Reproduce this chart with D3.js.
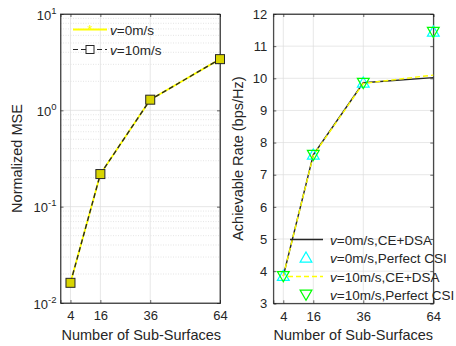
<!DOCTYPE html>
<html>
<head>
<meta charset="utf-8">
<script src="https://cdn.jsdelivr.net/npm/d3@7"></script>
<style>
  body { margin: 0; background: #fff; }
  svg text { font-family: "Liberation Sans", Arial, sans-serif; fill: #262626; }
</style>
</head>
<body>
<div id="chart"></div>
<script>
// data
let subSurfaces = [4, 16, 36, 64]
let xTicks = [4, 16, 36, 64]

let mseV0 = [0.0162, 0.218, 1.29, 3.4]
let mseV10 = [0.0162, 0.218, 1.29, 3.4]

let rateV0Ce = [3.85, 7.62, 9.86, 10.02]
let rateV0Perfect = [3.85, 7.62, 9.86, 11.45]
let rateV10Ce = [3.85, 7.6, 9.84, 10.1]
let rateV10Perfect = [3.85, 7.62, 9.86, 11.45]

let rateTicks = [3, 4, 5, 6, 7, 8, 9, 10, 11, 12]
let mseTicks = [-2, -1, 0, 1]

let width = 456
let height = 346

let svg = d3
  .select('#chart')
  .append('svg')
  .attr('width', width)
  .attr('height', height)

let axisColor = '#262626'
let gridColor = '#dcdcdc'
let tickFont = 13
let labelFont = 14.5
let legendFont = 13.5

// ---------- left panel: MSE ----------
let left = { x0: 60.5, x1: 220, y0: 14, y1: 303 }

let xLeft = d3.scaleLinear().domain([0, 64]).range([left.x0, left.x1])
let yLeft = d3.scaleLog().domain([0.01, 10]).range([left.y1, left.y0])

let gl = svg.append('g')

// minor grid on log axis
let minors = []
for (let e = -2; e < 1; e++) {
  for (let k = 2; k < 10; k++) minors.push(k * Math.pow(10, e))
}
gl.selectAll('.minor')
  .data(minors)
  .enter()
  .append('line')
  .attr('x1', left.x0)
  .attr('x2', left.x1)
  .attr('y1', d => yLeft(d))
  .attr('y2', d => yLeft(d))
  .attr('stroke', '#d4d4d4')
  .attr('stroke-width', 0.6)
  .attr('stroke-dasharray', '1,1.5')

gl.selectAll('.ygrid')
  .data(mseTicks)
  .enter()
  .append('line')
  .attr('x1', left.x0)
  .attr('x2', left.x1)
  .attr('y1', d => yLeft(Math.pow(10, d)))
  .attr('y2', d => yLeft(Math.pow(10, d)))
  .attr('stroke', gridColor)
  .attr('stroke-width', 0.7)

gl.selectAll('.xgrid')
  .data(xTicks)
  .enter()
  .append('line')
  .attr('x1', d => xLeft(d))
  .attr('x2', d => xLeft(d))
  .attr('y1', left.y0)
  .attr('y2', left.y1)
  .attr('stroke', gridColor)
  .attr('stroke-width', 0.7)

// axes
gl.append('g')
  .attr('transform', `translate(0, ${left.y1})`)
  .call(d3.axisBottom(xLeft).tickValues(xTicks).tickSize(-3).tickPadding(8))
gl.append('g')
  .attr('transform', `translate(0, ${left.y0})`)
  .call(d3.axisTop(xLeft).tickValues(xTicks).tickSize(-3).tickFormat(''))

let yAxisLeft = gl
  .append('g')
  .attr('transform', `translate(${left.x0}, 0)`)
  .call(
    d3.axisLeft(yLeft)
      .tickValues(mseTicks.map(d => Math.pow(10, d)))
      .tickSize(-3)
      .tickFormat('')
  )
yAxisLeft
  .selectAll('.tick')
  .append('text')
  .attr('class', 'logtick')
  .attr('x', -4)
  .attr('y', 5)
  .attr('text-anchor', 'end')
  .each(function(d) {
    let t = d3.select(this)
    t.append('tspan').attr('font-size', tickFont).text('10')
    t.append('tspan')
      .attr('dy', -6)
      .attr('font-size', 9.5)
      .text(Math.round(Math.log10(d)))
  })

gl.append('g')
  .attr('transform', `translate(${left.x1}, 0)`)
  .call(
    d3.axisRight(yLeft)
      .tickValues(mseTicks.map(d => Math.pow(10, d)))
      .tickSize(-3)
      .tickFormat('')
  )

gl.append('rect')
  .attr('x', left.x0)
  .attr('y', left.y0)
  .attr('width', left.x1 - left.x0)
  .attr('height', left.y1 - left.y0)
  .attr('fill', 'none')
  .attr('stroke', axisColor)
  .attr('stroke-width', 0.7)

let lineLeft0 = d3.line().x((d, i) => xLeft(subSurfaces[i])).y(d => yLeft(d))

gl.append('path')
  .datum(mseV0)
  .attr('d', lineLeft0)
  .attr('fill', 'none')
  .attr('stroke', '#ffff00')
  .attr('stroke-width', 1.8)

gl.append('path')
  .datum(mseV10)
  .attr('d', lineLeft0)
  .attr('fill', 'none')
  .attr('stroke', '#262626')
  .attr('stroke-width', 1.4)
  .attr('stroke-dasharray', '5,3')

gl.selectAll('.sq')
  .data(mseV10)
  .enter()
  .append('rect')
  .attr('x', (d, i) => xLeft(subSurfaces[i]) - 4.5)
  .attr('y', d => yLeft(d) - 4.5)
  .attr('width', 9)
  .attr('height', 9)
  .attr('fill', '#d8d400')
  .attr('stroke', '#262626')
  .attr('stroke-width', 1)

// left legend
let legL = gl.append('g')
legL.append('line')
  .attr('x1', 73).attr('x2', 107).attr('y1', 29.5).attr('y2', 29.5)
  .attr('stroke', '#ffff00').attr('stroke-width', 1.8)
legL.append('text')
  .attr('x', 90).attr('y', 34).attr('text-anchor', 'middle')
  .attr('font-size', 13).style('fill', '#ffff00').text('*')
legL.append('line')
  .attr('x1', 73).attr('x2', 107).attr('y1', 49.5).attr('y2', 49.5)
  .attr('stroke', '#262626').attr('stroke-width', 1.2)
  .attr('stroke-dasharray', '5,3')
legL.append('rect')
  .attr('x', 86).attr('y', 45.5).attr('width', 8).attr('height', 8)
  .attr('fill', '#fff').attr('stroke', '#262626').attr('stroke-width', 1)

let legLabelsL = ['=0m/s', '=10m/s']
legLabelsL.forEach((s, i) => {
  let t = legL.append('text')
    .attr('x', 110).attr('y', 34.5 + i * 20).attr('font-size', legendFont)
  t.append('tspan').attr('font-style', 'italic').text('v')
  t.append('tspan').text(s)
})

gl.append('text')
  .attr('transform', `translate(22, ${(left.y0 + left.y1) / 2}) rotate(-90)`)
  .attr('text-anchor', 'middle')
  .attr('font-size', labelFont)
  .text('Normalized MSE')

gl.append('text')
  .attr('x', (left.x0 + left.x1) / 2 + 1)
  .attr('y', 340)
  .attr('text-anchor', 'middle')
  .attr('font-size', labelFont)
  .text('Number of Sub-Surfaces')

// ---------- right panel: rate ----------
let right = { x0: 273.3, x1: 433.3, y0: 14, y1: 303.3 }

let xRight = d3.scaleLinear().domain([0, 64]).range([right.x0, right.x1])
let yRight = d3.scaleLinear().domain([3, 12]).range([right.y1, right.y0])

let gr = svg.append('g')

gr.selectAll('.ygrid')
  .data(rateTicks)
  .enter()
  .append('line')
  .attr('x1', right.x0)
  .attr('x2', right.x1)
  .attr('y1', d => yRight(d))
  .attr('y2', d => yRight(d))
  .attr('stroke', gridColor)
  .attr('stroke-width', 0.7)

gr.selectAll('.xgrid')
  .data(xTicks)
  .enter()
  .append('line')
  .attr('x1', d => xRight(d))
  .attr('x2', d => xRight(d))
  .attr('y1', right.y0)
  .attr('y2', right.y1)
  .attr('stroke', gridColor)
  .attr('stroke-width', 0.7)

gr.append('g')
  .attr('transform', `translate(0, ${right.y1})`)
  .call(d3.axisBottom(xRight).tickValues(xTicks).tickSize(-3).tickPadding(8))
gr.append('g')
  .attr('transform', `translate(0, ${right.y0})`)
  .call(d3.axisTop(xRight).tickValues(xTicks).tickSize(-3).tickFormat(''))
gr.append('g')
  .attr('transform', `translate(${right.x0}, 0)`)
  .call(d3.axisLeft(yRight).tickValues(rateTicks).tickSize(-3).tickPadding(6))
gr.append('g')
  .attr('transform', `translate(${right.x1}, 0)`)
  .call(d3.axisRight(yRight).tickValues(rateTicks).tickSize(-3).tickFormat(''))

gr.append('rect')
  .attr('x', right.x0)
  .attr('y', right.y0)
  .attr('width', right.x1 - right.x0)
  .attr('height', right.y1 - right.y0)
  .attr('fill', 'none')
  .attr('stroke', axisColor)
  .attr('stroke-width', 0.7)

let lineRight = d3.line().x((d, i) => xRight(subSurfaces[i])).y(d => yRight(d))

gr.append('path')
  .datum(rateV0Ce)
  .attr('d', lineRight)
  .attr('fill', 'none')
  .attr('stroke', '#262626')
  .attr('stroke-width', 1.4)

gr.append('path')
  .datum(rateV10Ce)
  .attr('d', lineRight)
  .attr('fill', 'none')
  .attr('stroke', '#ffff00')
  .attr('stroke-width', 1.4)
  .attr('stroke-dasharray', '5,3')

let tri = d3.symbol().type(d3.symbolTriangle).size(60)

gr.selectAll('.up')
  .data(rateV0Perfect)
  .enter()
  .append('path')
  .attr('d', tri)
  .attr('transform', (d, i) => `translate(${xRight(subSurfaces[i])}, ${yRight(d) + 1})`)
  .attr('fill', 'none')
  .attr('stroke', '#00ffff')
  .attr('stroke-width', 1.2)

gr.selectAll('.down')
  .data(rateV10Perfect)
  .enter()
  .append('path')
  .attr('d', tri)
  .attr('transform', (d, i) => `translate(${xRight(subSurfaces[i])}, ${yRight(d) - 1}) rotate(180)`)
  .attr('fill', 'none')
  .attr('stroke', '#00ff00')
  .attr('stroke-width', 1.2)

// right legend (no box, transparent)
let legR = gr.append('g')
let rowY = [239.5, 257.8, 276.5, 294.5]
legR.append('line')
  .attr('x1', 290).attr('x2', 323).attr('y1', rowY[0]).attr('y2', rowY[0])
  .attr('stroke', '#262626').attr('stroke-width', 1.4)
legR.append('path')
  .attr('d', tri)
  .attr('transform', `translate(306, ${rowY[1] + 1})`)
  .attr('fill', 'none').attr('stroke', '#00ffff').attr('stroke-width', 1.2)
legR.append('line')
  .attr('x1', 288).attr('x2', 323).attr('y1', rowY[2]).attr('y2', rowY[2])
  .attr('stroke', '#ffff00').attr('stroke-width', 1.4)
  .attr('stroke-dasharray', '5,3')
legR.append('path')
  .attr('d', tri)
  .attr('transform', `translate(306, ${rowY[3] - 1}) rotate(180)`)
  .attr('fill', 'none').attr('stroke', '#00ff00').attr('stroke-width', 1.2)

let legLabelsR = ['=0m/s,CE+DSA', '=0m/s,Perfect CSI', '=10m/s,CE+DSA', '=10m/s,Perfect CSI']
legLabelsR.forEach((s, i) => {
  let t = legR.append('text')
    .attr('x', 330).attr('y', rowY[i] + 5).attr('font-size', legendFont)
  t.append('tspan').attr('font-style', 'italic').text('v')
  t.append('tspan').text(s)
})

gr.append('text')
  .attr('transform', `translate(243, ${(right.y0 + right.y1) / 2}) rotate(-90)`)
  .attr('text-anchor', 'middle')
  .attr('font-size', labelFont)
  .text('Achievable Rate (bps/Hz)')

gr.append('text')
  .attr('x', (right.x0 + right.x1) / 2)
  .attr('y', 340)
  .attr('text-anchor', 'middle')
  .attr('font-size', labelFont)
  .text('Number of Sub-Surfaces')

// styling of d3 axes to look like the reference
svg.selectAll('.domain').attr('stroke', axisColor).attr('stroke-width', 0.7)
svg.selectAll('.tick line').attr('stroke', axisColor).attr('stroke-width', 0.7)
svg.selectAll('.tick text')
  .style('font-family', '"Liberation Sans", Arial, sans-serif')
  .attr('fill', axisColor)
svg.selectAll('.tick text:not(.logtick)').attr('font-size', tickFont)
</script>
</body>
</html>
